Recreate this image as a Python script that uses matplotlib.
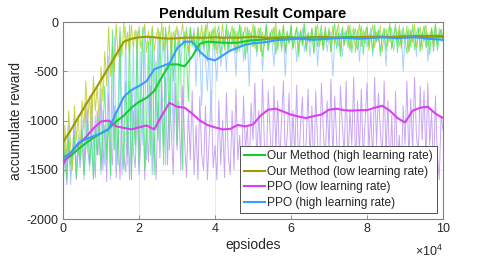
import numpy as np
import matplotlib
matplotlib.use("Agg")
import matplotlib.pyplot as plt
from matplotlib.ticker import FuncFormatter

plt.rcParams['font.family'] = ['Liberation Sans', 'DejaVu Sans']
plt.rcParams['axes.unicode_minus'] = False

# raw rewards, one value every 500 episodes
raw_x = np.arange(0, 100001, 500)

green_raw = [-1550, -1300, -1600, -1200, -1450, -1350, -1150, -1580, -1250, -1400,
             -1100, -1550, -1300, -1000, -1450, -1200, -1600, -1050, -1350, -950,
             -1500, -1100, -650, -1400, -1000, -1550, -80, -1300, -900, -1450,
             -50, -1200, -1500, -600, -1350, -30, -1600, -900, -1250, -100,
             -1450, -700, -50, -1500, -1100, -200, -1350, -80, -1550, -400,
             -1200, -100, -900, -1450, -50, -300, -1300, -150, -600, -80,
             -1250, -200, -500, -1500, -100, -350, -800, -60, -250, -150,
             -300, -50, -350, -150, -250, -30, -400, -100, -200, -60,
             -280, -120, -40, -350, -150, -250, -20, -300, -100, -200,
             -60, -320, -150, -30, -250, -100, -380, -50, -200, -120,
             -250, -40, -300, -120, -60, -350, -180, -20, -280, -100,
             -200, -50, -330, -150, -80, -260, -30, -300, -120, -220,
             -40, -280, -150, -60, -350, -100, -240, -20, -300, -130,
             -210, -70, -320, -40, -250, -150, -30, -290, -100, -200,
             -60, -300, -140, -20, -270, -110, -350, -50, -220, -90,
             -260, -30, -310, -130, -70, -280, -160, -40, -330, -100,
             -50, -240, -120, -300, -30, -200, -80, -340, -140, -60,
             -290, -100, -40, -260, -150, -20, -310, -90, -230, -50,
             -180, -320, -70, -250, -30, -280, -120, -60, -300, -140,
             -40, -260, -110, -330, -60, -220, -20, -290, -150, -80, -200]

olive_raw = [-1700, -1050, -1400, -900, -1250, -1500, -850, -1200, -950, -1350,
             -800, -1100, -600, -1000, -750, -1150, -550, -900, -650, -1000,
             -450, -800, -300, -650, -50, -550, -250, -500, -20, -350,
             -150, -350, 0, -280, -100, -320, -30, -250, -80, -300,
             -50, -270, -130, -20, -310, -90, -230, -40, -290, -150,
             -60, -250, -10, -300, -120, -200, -30, -330, -100, -180,
             -40, -280, -140, -20, -260, -80, -310, -50, -220, -110,
             -300, -60, -190, -30, -270, -130, -10, -290, -90, -240,
             -50, -320, -110, -200, -20, -280, -70, -250, -140, -40,
             -260, -90, -300, -30, -220, -120, -50, -310, -80, -190,
             -20, -270, -130, -60, -300, -100, -240, -30, -280, -150,
             -70, -230, -10, -290, -110, -180, -40, -320, -90, -210,
             -30, -260, -140, -50, -300, -80, -220, -20, -270, -120,
             -190, -60, -310, -100, -30, -250, -130, -280, -50, -200,
             -90, -300, -40, -230, -120, -20, -290, -70, -240, -140,
             -30, -270, -110, -60, -310, -160, -20, -250, -80, -220,
             -50, -290, -130, -30, -260, -100, -200, -40, -300, -120,
             -70, -240, -10, -280, -140, -60, -230, -30, -270, -110,
             -190, -40, -300, -90, -210, -20, -260, -130, -50, -280,
             -100, -30, -250, -150, -60, -290, -20, -220, -120, -70, -160]

magenta_raw = [-1720, -1300, -1650, -1180, -1560, -1420, -1100, -1600, -1250, -1480,
               -1050, -1550, -820, -1300, -1460, -760, -1200, -1580, -900, -1350,
               -680, -1500, -1050, -1620, -720, -1250, -1450, -850, -1580, -1100,
               -1600, -780, -1350, -1520, -950, -1600, -700, -1300, -1480, -880,
               -1550, -1200, -760, -1600, -1050, -1420, -650, -1500, -1150, -1600,
               -820, -1380, -600, -1250, -560, -1450, -700, -1100, -1550, -620,
               -1300, -800, -1500, -650, -1200, -1580, -900, -1400, -700, -1550,
               -1050, -1600, -760, -1350, -1500, -850, -1600, -1150, -700, -1480,
               -1250, -1600, -800, -1450, -1000, -1580, -720, -1350, -1550, -900,
               -1500, -680, -1400, -1150, -1600, -750, -1300, -1050, -1550, -820,
               -1200, -620, -1450, -900, -1350, -580, -1250, -1500, -700, -1100,
               -1550, -650, -1300, -800, -1450, -1000, -600, -1400, -1150, -720,
               -1500, -900, -1350, -640, -1550, -1050, -760, -1450, -1200, -680,
               -1400, -850, -1600, -700, -1250, -1500, -620, -1100, -1450, -800,
               -1300, -580, -1400, -750, -1200, -1550, -650, -1050, -1350, -600,
               -1450, -900, -1250, -560, -1500, -800, -1350, -680, -1400, -1000,
               -620, -1300, -900, -1450, -560, -1250, -720, -1100, -1400, -600,
               -1350, -800, -1550, -950, -1600, -700, -1450, -1150, -1600, -850,
               -1250, -600, -1400, -780, -1300, -560, -1150, -1350, -650, -1200,
               -700, -1400, -620, -1250, -900, -1550, -750, -1350, -1600, -950, -1100]

blue_raw = [-1600, -1200, -1500, -1050, -1650, -1300, -950, -1550, -1150, -1450,
            -1000, -1600, -1250, -900, -1500, -1100, -1580, -950, -1350, -1050,
            -1550, -900, -1450, -1200, -350, -1600, -1000, -150, -1500, -850,
            -100, -1550, -1250, -50, -1450, -600, -1600, -200, -1300, -80,
            -1500, -300, -1250, -60, -1400, -900, -150, -1550, -250, -1100,
            -100, -1300, -400, -50, -1450, -200, -700, -100, -1200, -150,
            -300, -80, -450, -150, -250, -50, -350, -120, -200, -60,
            -650, -150, -300, -850, -100, -400, -700, -200, -1000, -150,
            -350, -600, -100, -450, -250, -150, -500, -80, -300, -200,
            -150, -550, -100, -300, -50, -400, -200, -120, -650, -100,
            -250, -80, -350, -150, -100, -500, -200, -60, -300, -120,
            -200, -450, -100, -250, -80, -300, -150, -550, -100, -200,
            -80, -250, -150, -400, -100, -200, -60, -300, -150, -100,
            -350, -120, -200, -80, -450, -150, -100, -250, -60, -300,
            -150, -100, -550, -200, -80, -250, -120, -350, -100, -200,
            -60, -300, -150, -100, -250, -80, -400, -120, -200, -100,
            -250, -150, -60, -350, -100, -200, -80, -300, -150, -100,
            -450, -120, -200, -60, -300, -150, -100, -250, -80, -500,
            -150, -100, -300, -80, -200, -120, -350, -60, -250, -100,
            -200, -80, -400, -150, -100, -300, -120, -250, -60, -200, -150]

# smoothed rewards, one value every 2000 episodes
smooth_x = np.arange(0, 100001, 2000)

green_smooth = [-1410, -1360, -1290, -1230, -1175, -1130, -1085, -1010, -950, -870,
                -810, -770, -700, -560, -430, -430, -450, -350, -220, -200,
                -205, -210, -212, -210, -195, -185, -180, -170, -165, -160,
                -158, -160, -158, -155, -160, -162, -158, -155, -152, -155,
                -158, -155, -150, -152, -150, -148, -150, -152, -150, -148, -150]

olive_smooth = [-1220, -1100, -970, -840, -715, -590, -460, -330, -200, -170,
                -155, -150, -155, -165, -168, -165, -160, -158, -160, -158,
                -155, -160, -158, -160, -155, -150, -155, -160, -158, -155,
                -160, -162, -160, -155, -150, -155, -160, -162, -158, -155,
                -150, -148, -150, -152, -150, -148, -145, -140, -142, -140, -140]

magenta_smooth = [-1440, -1330, -1240, -1170, -1080, -1010, -1000, -1060, -1075, -1090,
                  -1070, -1050, -1090, -950, -820, -860, -870, -930, -1000, -1045,
                  -1070, -1090, -1085, -1045, -1060, -1040, -950, -890, -880, -910,
                  -940, -960, -975, -955, -940, -890, -880, -895, -900, -895,
                  -895, -870, -850, -900, -975, -1020, -900, -870, -860, -930, -975]

blue_smooth = [-1380, -1330, -1230, -1190, -1160, -1130, -1090, -920, -760, -690,
               -650, -600, -480, -450, -420, -270, -200, -200, -300, -370,
               -390, -340, -290, -260, -230, -215, -210, -200, -185, -180,
               -175, -170, -175, -180, -175, -170, -165, -160, -165, -170,
               -165, -160, -155, -160, -165, -160, -155, -160, -170, -175, -180]

labels = ['Our Method (high learning rate)', 'Our Method (low learning rate)',
          'PPO (low learning rate)', 'PPO (high learning rate)']

fig = plt.figure(figsize=(4.91, 2.62), dpi=100)
ax = fig.add_axes([0.1283, 0.164, 0.774, 0.752])

# raw curves (light, thin)
ax.plot(raw_x, magenta_raw, color='#C39BF6', lw=0.7, alpha=0.9)
ax.plot(raw_x, blue_raw, color='#A3CBFF', lw=0.7, alpha=0.9)
ax.plot(raw_x, olive_raw, color='#B6CC18', lw=0.7, alpha=0.8)
ax.plot(raw_x, green_raw, color='#3DEE5C', lw=0.7, alpha=0.8)

# smoothed curves
ax.plot(smooth_x, green_smooth, color='#16C937', lw=1.5, label=labels[0])
ax.plot(smooth_x, olive_smooth, color='#A09A00', lw=1.5, label=labels[1])
ax.plot(smooth_x, magenta_smooth, color='#DA3FF0', lw=1.5, label=labels[2])
ax.plot(smooth_x, blue_smooth, color='#3A9BFF', lw=1.5, label=labels[3])

ax.set_xlim(0, 100000)
ax.set_ylim(-2000, 0)
ax.set_xticks(np.arange(0, 100001, 20000))
ax.set_yticks([-2000, -1500, -1000, -500, 0])
ax.xaxis.set_major_formatter(FuncFormatter(lambda v, p: f'{v / 1e4:g}'))
ax.text(1.0, -0.165, r'$\mathregular{\times10^4}$', transform=ax.transAxes,
        ha='right', va='center', fontsize=9, color='#262626')

ax.grid(True, color='#e6e6e6', lw=0.6)
ax.set_axisbelow(True)
for s in ax.spines.values():
    s.set_color('#808080')
    s.set_linewidth(0.8)
ax.tick_params(direction='in', length=3, width=0.6, color='#808080', labelsize=9,
               labelcolor='#262626', pad=3)

ax.set_title('Pendulum Result Compare', fontsize=10.5, fontweight='bold', pad=3)
ax.set_xlabel('epsiodes', fontsize=10, labelpad=2, color='#262626')
ax.set_ylabel('accumulate reward', fontsize=10, labelpad=3, color='#262626')

leg = ax.legend(loc='lower right', fontsize=8.6, handlelength=1.75, handletextpad=0.2,
                borderpad=0.35, labelspacing=0.3, borderaxespad=0.5, fancybox=False,
                framealpha=1.0, edgecolor='#505050')
leg.get_frame().set_linewidth(0.7)
for t in leg.get_texts():
    t.set_color('#262626')

fig.savefig('out.png', dpi=100)
